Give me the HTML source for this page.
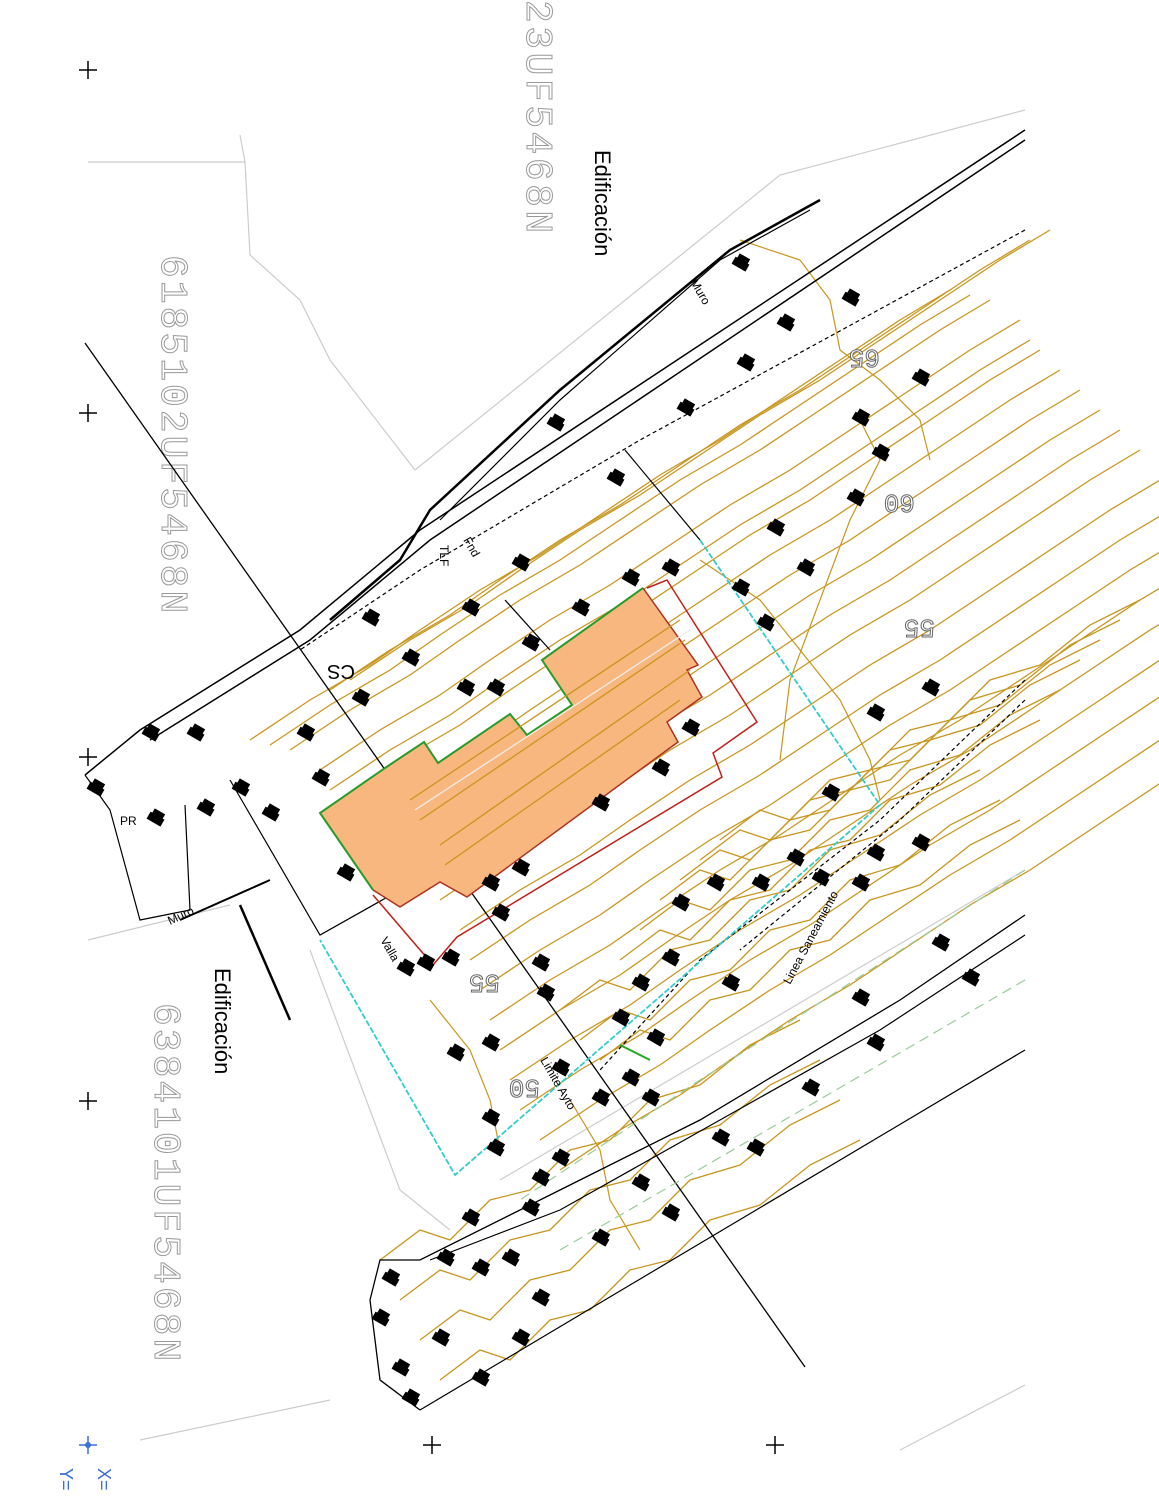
<!DOCTYPE html>
<html><head><meta charset="utf-8"><style>
html,body{margin:0;padding:0;background:#fff}
svg{display:block}
.ed{font-family:"Liberation Sans",sans-serif;font-size:22px;fill:#000}
</style></head><body>
<svg width="1159" height="1500" viewBox="0 0 1159 1500" xmlns="http://www.w3.org/2000/svg">
<defs>
<path id="c" d="M0,0 L60,-40 L120,-75 L170,-110 L230,-150 L290,-185 L350,-225 L410,-265 L470,-300 L530,-340 L590,-380 L650,-420 L700,-450" fill="none" stroke="#c8961e" stroke-width="1.3"/>
<path id="c2" d="M0,0 L40,-30 L70,-20 L110,-60 L150,-70 L190,-110 L230,-120 L270,-160 L320,-175 L370,-215 L420,-240" fill="none" stroke="#c8961e" stroke-width="1.3"/>
<g id="m"><rect x="-3" y="-8" width="8" height="16" fill="#000" transform="rotate(-60)"/><rect x="4" y="-6" width="6" height="12" fill="#000" transform="rotate(-60)"/></g>
</defs>
<g stroke="#ccc" stroke-width="1.2" fill="none">
<path d="M88,162 L245,162 L250,255 L300,300 L330,360 L415,470"/>
<path d="M245,162 L240,135"/>
<path d="M415,470 L780,175 L1025,110"/>
<path d="M310,950 L400,1190 L450,1230"/>
<path d="M88,940 L230,905"/>
<path d="M140,1440 L330,1400"/>
<path d="M900,1450 L1025,1385"/>
<path d="M500,1180 L1025,870"/>
</g>
<g font-family="Liberation Mono, monospace" fill="#fff" stroke="#999" stroke-width="1" font-size="38">
<text transform="translate(527,0) rotate(90)" letter-spacing="3.5">23UF5468N</text>
<text transform="translate(162,255) rotate(90)" letter-spacing="3">6185102UF5468N</text>
<text transform="translate(155,1003) rotate(90)" letter-spacing="3">6384101UF5468N</text>
</g>
<text class="ed" transform="translate(595,150) rotate(90)">Edificación</text>
<text class="ed" transform="translate(215,968) rotate(90)">Edificación</text>
<g>
<use href="#c" transform="translate(320,770)"/>
<use href="#c" transform="translate(330,790)"/>
<use href="#c" transform="translate(340,800)"/>
<use href="#c" transform="translate(360,820)"/>
<use href="#c" transform="translate(380,840)"/>
<use href="#c" transform="translate(400,860)"/>
<use href="#c" transform="translate(420,880)"/>
<use href="#c" transform="translate(440,900)"/>
<use href="#c" transform="translate(460,930)"/>
<use href="#c" transform="translate(470,960)"/>
<use href="#c" transform="translate(480,990)"/>
<use href="#c" transform="translate(490,1020)"/>
<use href="#c" transform="translate(500,1050)"/>
<use href="#c" transform="translate(510,1080)"/>
<use href="#c" transform="translate(520,1110)"/>
<use href="#c" transform="translate(540,1140)"/>
<use href="#c" transform="translate(560,1170)"/>
<use href="#c" transform="translate(250,740)"/>
<use href="#c" transform="translate(270,745)"/>
<use href="#c" transform="translate(290,750)"/>
<use href="#c" transform="translate(330,690)"/>
<use href="#c" transform="translate(350,680)"/>
<use href="#c2" transform="translate(560,1010)"/>
<use href="#c2" transform="translate(580,1040)"/>
<use href="#c2" transform="translate(600,1060)"/>
<use href="#c2" transform="translate(620,960)"/>
<use href="#c2" transform="translate(640,930)"/>
<use href="#c2" transform="translate(660,900)"/>
<use href="#c2" transform="translate(680,880)"/>
<use href="#c2" transform="translate(700,860)"/>
<use href="#c2" transform="translate(720,840)"/>
<use href="#c2" transform="translate(400,1300)"/>
<use href="#c2" transform="translate(420,1340)"/>
<use href="#c2" transform="translate(440,1380)"/>
<use href="#c2" transform="translate(380,1260)"/>
</g>
<g fill="none" stroke="#c8961e" stroke-width="1.2">
<path d="M740,240 L800,260 L830,300 L840,350 L880,380 L920,420 L930,460"/>
<path d="M700,560 L760,600 L800,650 L840,700 L870,760 L880,800"/>
<path d="M860,420 L880,460 L850,520 L820,600 L790,680 L780,760"/>
<path d="M430,1000 L470,1050 L490,1100 L500,1150"/>
<path d="M570,1100 L600,1150 L610,1200 L640,1250"/>
</g>
<g font-family="Liberation Mono,monospace" fill="#fff" stroke="#666" stroke-width="1" font-size="26">
<text transform="translate(880,350) rotate(180)">65</text>
<text transform="translate(915,495) rotate(180)">60</text>
<text transform="translate(935,620) rotate(180)">55</text>
<text transform="translate(500,975) rotate(180)">55</text>
<text transform="translate(540,1080) rotate(180)">50</text>
</g>
<g stroke="#000" fill="none">
<path d="M1025,130 L420,530 L300,630 L140,730 L85,775" stroke-width="1.5"/>
<path d="M1025,140 L430,540 L310,640 L150,740" stroke-width="1.5"/>
<path d="M820,200 L730,250 L560,390 L430,510 L400,560 L330,620" stroke-width="2.5"/>
<path d="M810,210 L720,260 L560,400 L440,520" stroke-width="1.2"/>
<path d="M85,343 L805,1367" stroke-width="1.3"/>
<path d="M85,775 L110,810 L140,920 L190,910 L185,805" stroke-width="1.2"/>
<path d="M230,780 L320,935 L560,800" stroke-width="1.2"/>
<path d="M240,905 L290,1020" stroke-width="2.5"/>
<path d="M270,880 L180,920" stroke-width="2"/>
<path d="M625,450 L700,540" stroke-width="1.2"/>
<path d="M505,600 L550,650" stroke-width="1.2"/>
<path d="M1025,915 L900,1000 L700,1120 L560,1190 L420,1260 L380,1260 L370,1300 L380,1380 L420,1410" stroke-width="1.3"/>
<path d="M1025,935 L880,1030 L720,1120 L560,1210 L430,1260" stroke-width="1.2"/>
<path d="M420,1410 L1025,1050" stroke-width="1.2"/>
</g>
<g stroke="#000" fill="none" stroke-width="1.2" stroke-dasharray="4,3">
<path d="M1025,230 L640,440 L420,570 L300,650"/>
<path d="M1025,680 L880,820 L700,960 L600,1070"/>
<path d="M1025,700 L900,820 L740,950"/>
</g>
<g stroke="#9c9" fill="none" stroke-width="1.2" stroke-dasharray="10,6">
<path d="M1025,870 L700,1080 L520,1200"/>
<path d="M1025,980 L750,1140 L560,1250"/>
</g>
<path d="M700,540 L880,805 L455,1175 L320,940" fill="none" stroke="#3cc" stroke-width="1.8" stroke-dasharray="6,2"/>
<polygon points="320,813 385,768 424,742 438,763 510,714 527,735 572,705 542,660 643,588 698,665 687,670 702,697 667,722 678,742 467,897 440,882 400,907 373,890" fill="#f7b77e" stroke="none"/>
<polyline points="373,890 320,813 385,768 424,742 438,763 510,714 527,735 572,705 542,660 643,588" fill="none" stroke="#2a9a2a" stroke-width="2"/>
<polyline points="643,588 698,665 687,670 702,697 667,722 678,742 467,897 440,882 400,907 373,890" fill="none" stroke="#b03020" stroke-width="1.5"/>
<g stroke="#c8961e" stroke-width="1.3">
<line x1="410" y1="800" x2="680" y2="620"/>
<line x1="420" y1="820" x2="685" y2="640"/>
<line x1="440" y1="845" x2="690" y2="670"/>
<line x1="445" y1="865" x2="680" y2="700"/>
<line x1="415" y1="810" x2="690" y2="630" stroke="#eee"/>
</g>
<polyline points="647,588 667,580 757,722 713,753 722,777 457,937 433,965 373,895" fill="none" stroke="#c0201a" stroke-width="1.5"/>
<line x1="620" y1="1045" x2="650" y2="1060" stroke="#2a2" stroke-width="2"/>
<g>
<use href="#m" x="740" y="265"/><use href="#m" x="785" y="325"/><use href="#m" x="745" y="365"/>
<use href="#m" x="685" y="410"/><use href="#m" x="555" y="425"/><use href="#m" x="615" y="480"/>
<use href="#m" x="520" y="565"/><use href="#m" x="470" y="610"/><use href="#m" x="370" y="620"/>
<use href="#m" x="410" y="660"/><use href="#m" x="360" y="700"/><use href="#m" x="305" y="735"/>
<use href="#m" x="195" y="735"/><use href="#m" x="150" y="735"/><use href="#m" x="95" y="790"/>
<use href="#m" x="155" y="820"/><use href="#m" x="205" y="810"/><use href="#m" x="240" y="790"/>
<use href="#m" x="270" y="815"/><use href="#m" x="320" y="780"/><use href="#m" x="345" y="875"/>
<use href="#m" x="670" y="570"/><use href="#m" x="630" y="580"/><use href="#m" x="580" y="610"/>
<use href="#m" x="530" y="645"/><use href="#m" x="495" y="690"/><use href="#m" x="465" y="690"/>
<use href="#m" x="740" y="590"/><use href="#m" x="765" y="625"/><use href="#m" x="690" y="730"/>
<use href="#m" x="660" y="770"/><use href="#m" x="600" y="805"/><use href="#m" x="520" y="870"/>
<use href="#m" x="490" y="885"/><use href="#m" x="500" y="915"/><use href="#m" x="425" y="965"/>
<use href="#m" x="405" y="970"/><use href="#m" x="450" y="960"/><use href="#m" x="540" y="965"/>
<use href="#m" x="545" y="995"/><use href="#m" x="490" y="1045"/><use href="#m" x="455" y="1055"/>
<use href="#m" x="640" y="985"/><use href="#m" x="670" y="960"/><use href="#m" x="680" y="905"/>
<use href="#m" x="715" y="885"/><use href="#m" x="760" y="885"/><use href="#m" x="795" y="860"/>
<use href="#m" x="830" y="795"/><use href="#m" x="875" y="855"/><use href="#m" x="875" y="715"/>
<use href="#m" x="930" y="690"/><use href="#m" x="805" y="570"/><use href="#m" x="775" y="530"/>
<use href="#m" x="855" y="500"/><use href="#m" x="880" y="455"/><use href="#m" x="860" y="420"/>
<use href="#m" x="920" y="380"/><use href="#m" x="850" y="300"/><use href="#m" x="820" y="880"/>
<use href="#m" x="860" y="885"/><use href="#m" x="920" y="845"/><use href="#m" x="730" y="985"/>
<use href="#m" x="620" y="1020"/><use href="#m" x="655" y="1040"/><use href="#m" x="630" y="1080"/>
<use href="#m" x="650" y="1100"/><use href="#m" x="600" y="1100"/><use href="#m" x="560" y="1160"/>
<use href="#m" x="540" y="1180"/><use href="#m" x="530" y="1210"/><use href="#m" x="470" y="1220"/>
<use href="#m" x="510" y="1260"/><use href="#m" x="445" y="1260"/><use href="#m" x="480" y="1270"/>
<use href="#m" x="600" y="1240"/><use href="#m" x="640" y="1185"/><use href="#m" x="670" y="1215"/>
<use href="#m" x="720" y="1140"/><use href="#m" x="755" y="1150"/><use href="#m" x="810" y="1090"/>
<use href="#m" x="860" y="1000"/><use href="#m" x="875" y="1045"/><use href="#m" x="940" y="945"/>
<use href="#m" x="970" y="980"/><use href="#m" x="540" y="1300"/><use href="#m" x="520" y="1340"/>
<use href="#m" x="480" y="1380"/><use href="#m" x="440" y="1340"/><use href="#m" x="400" y="1370"/>
<use href="#m" x="380" y="1320"/><use href="#m" x="390" y="1280"/><use href="#m" x="410" y="1400"/>
<use href="#m" x="495" y="1150"/><use href="#m" x="490" y="1120"/><use href="#m" x="560" y="1070"/>
</g>
<g font-family="Liberation Sans,sans-serif" font-size="12" fill="#000">
<text transform="translate(690,282) rotate(60)">Muro</text>
<text transform="translate(170,925) rotate(-25)">Muro</text>
<text transform="translate(440,545) rotate(90)">TLF</text>
<text transform="translate(463,540) rotate(60)">Fnd</text>
<text transform="translate(380,940) rotate(60)">Valla</text>
<text transform="translate(120,825)">PR</text>
<text transform="translate(540,1060) rotate(60)">Limite Ayto</text>
<text transform="translate(790,985) rotate(-62)">Linea Saneamiento</text>
<text transform="translate(355,665) rotate(180)" font-size="20">CS</text>
</g>
<g stroke="#000" stroke-width="1.5">
<path d="M79,70h18M88,61v18"/><path d="M79,413h18M88,404v18"/><path d="M79,757h18M88,748v18"/>
<path d="M79,1101h18M88,1092v18"/><path d="M423,1445h18M432,1436v18"/><path d="M766,1445h18M775,1436v18"/>
</g>
<g stroke="#3a6fd8" stroke-width="1.5"><path d="M79,1445h18M88,1436v18"/></g>
<circle cx="88" cy="1445" r="3" fill="#3a6fd8"/>
<text transform="translate(98,1468) rotate(90)" font-family="Liberation Sans,sans-serif" font-size="18" fill="#3a6fd8">X=</text>
<text transform="translate(60,1468) rotate(90)" font-family="Liberation Sans,sans-serif" font-size="18" fill="#3a6fd8">Y=</text>
</svg>
</body></html>
